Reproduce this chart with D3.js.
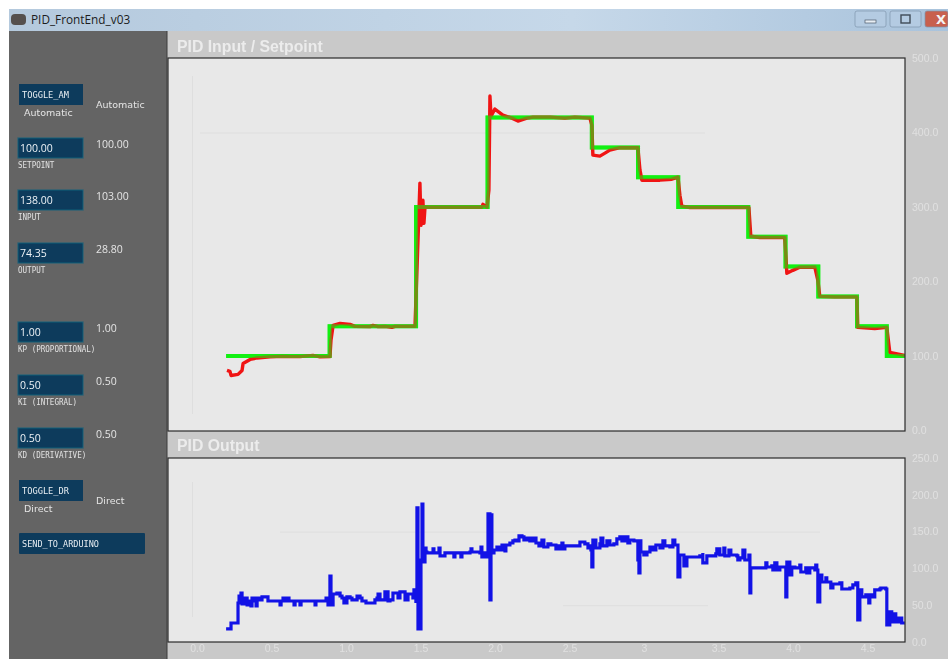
<!DOCTYPE html>
<html>
<head>
<meta charset="utf-8">
<script src="https://cdn.jsdelivr.net/npm/d3@7"></script>
<style>
  html, body { margin: 0; padding: 0; background: #fff; overflow: hidden; }
  svg { display: block; }
  text { font-family: "DejaVu Sans", sans-serif; }
  .tick line, .domain { display: none; }
  .tick text { fill: #e0e0e0; font-size: 10.5px; font-family: "Liberation Sans", sans-serif; }
  .grid .tick line { display: block; stroke: #dedede; stroke-width: 1; }
  .grid .tick text { display: none; }
</style>
</head>
<body>
<div id="chart"></div>
<script>
// tick labels
const inputTicks = [0, 100, 200, 300, 400, 500];
const outputTicks = [0, 50, 100, 150, 200, 250];
const timeTicks = [0, 0.5, 1, 1.5, 2, 2.5, 3, 3.5, 4, 4.5];
const timeLabels = ["0.0", "0.5", "1.0", "1.5", "2.0", "2.5", "3", "3.5", "4.0", "4.5"];

// setpoint steps, minutes / value
const setpointTime = [0.195, 0.89, 1.47, 1.95, 2.65, 2.96, 3.23, 3.70, 3.95, 4.17, 4.43, 4.63, 4.752];
const setpointValue = [100, 140, 300, 420, 380, 340, 300, 260, 220, 180, 140, 100, 100];

// input
const inputTime = [.201, .221, .228, .275, .302, .309, .356, .403, .490, .577, .624, .691, .778, .825, .892, .899, .913, .960,
  1.027, 1.060, 1.161, 1.181, 1.215, 1.261, 1.308, 1.329, 1.463, 1.483, 1.496, 1.503, 1.516, 1.523, 1.530, 1.631, 1.912, 1.919,
  1.946, 1.959, 1.966, 1.973, 1.999, 2.053, 2.114, 2.154, 2.214, 2.255, 2.369, 2.469, 2.536, 2.637, 2.650, 2.657, 2.704, 2.738,
  2.771, 2.838, 2.959, 2.973, 2.986, 3.107, 3.187, 3.228, 3.241, 3.254, 3.308, 3.442, 3.704, 3.717, 3.778, 3.945, 3.959, 3.999,
  4.046, 4.147, 4.167, 4.180, 4.281, 4.429, 4.435, 4.549, 4.630, 4.650, 4.751];
const inputValue = [80.6, 79.3, 73.9, 75.3, 80.6, 90, 95.4, 97.4, 98.8, 99.5, 99.1, 99.1, 100.8, 98.8, 99.1, 121, 141, 143.8,
  142.5, 139.8, 139.4, 141.1, 139.4, 139.8, 138.6, 139.8, 139.8, 255.4, 332, 275.5, 309.1, 278.2, 299.7, 299.7, 299.7, 303.7,
  299.7, 322.6, 448.9, 422, 431.4, 423.4, 419.3, 415.3, 419.3, 420.7, 420.7, 419.3, 420.7, 419.3, 409.9, 369.6, 368.3, 372.3,
  376.3, 379.6, 379.6, 349.4, 336, 336, 337.3, 340, 315.8, 301.1, 299.4, 299.4, 299.4, 260.7, 259, 259, 211, 215,
  219.1, 219.1, 201.6, 180.1, 179.4, 179.4, 138.4, 136.7, 138.4, 104.8, 100.8];

// output
const outputTime = [.195, .228, .228, .248, .275, .282, .289, .295, .302, .322, .336, .349, .362, .369, .382, .396, .403, .423, .436, .463, .476,
  .550, .557, .564, .577, .590, .604, .617, .651, .651, .658, .691, .691, .698, .792, .792, .798, .859, .866, .872, .879, .892, .892, .899, .899, .906,
  .913, .939, .960, .973, .986, 1.000, 1.006, 1.027, 1.040, 1.060, 1.074, 1.094, 1.107, 1.134, 1.134, 1.174, 1.194, 1.208, 1.215, 1.228,
  1.261, 1.282, 1.295, 1.315, 1.349, 1.362, 1.396, 1.416, 1.449, 1.456, 1.469, 1.469, 1.476, 1.483, 1.483, 1.496, 1.503, 1.510, 1.516, 1.516, 1.523, 1.530, 1.537, 1.543,
  1.577, 1.584, 1.590, 1.617, 1.624, 1.631, 1.657, 1.664, 1.718, 1.724, 1.731, 1.765, 1.771, 1.778, 1.832, 1.839, 1.845, 1.899, 1.906, 1.912, 1.926, 1.939,
  1.953, 1.966, 1.966, 1.973, 1.973, 1.979, 1.993, 2.013, 2.026, 2.047, 2.067, 2.073, 2.100, 2.120, 2.134, 2.147, 2.161, 2.181, 2.194, 2.214, 2.234, 2.255,
  2.275, 2.295, 2.315, 2.328, 2.355, 2.375, 2.409, 2.422, 2.436, 2.449, 2.456, 2.469, 2.550, 2.570, 2.603, 2.624, 2.637, 2.644, 2.650, 2.657, 2.657,
  2.677, 2.704, 2.711, 2.724, 2.751, 2.771, 2.798, 2.818, 2.838, 2.852, 2.872, 2.892, 2.905, 2.932, 2.946, 2.959, 2.966, 2.973, 2.979, 2.999, 3.020, 3.040,
  3.060, 3.080, 3.107, 3.127, 3.140, 3.174, 3.194, 3.207, 3.221, 3.228, 3.234, 3.241, 3.261, 3.268, 3.288, 3.375, 3.395, 3.395, 3.422, 3.482, 3.489, 3.509,
  3.536, 3.543, 3.570, 3.583, 3.623, 3.630, 3.644, 3.664, 3.677, 3.704, 3.711, 3.717, 3.717, 3.778, 3.818, 3.825, 3.858, 3.865, 3.878, 3.892, 3.912, 3.945,
  3.952, 3.959, 3.959, 3.979, 3.992, 4.013, 4.046, 4.053, 4.086, 4.093, 4.113, 4.147, 4.153, 4.160, 4.167, 4.174, 4.180, 4.194, 4.221, 4.227, 4.254, 4.268,
  4.315, 4.328, 4.382, 4.402, 4.422, 4.435, 4.435, 4.442, 4.449, 4.462, 4.489, 4.509, 4.516, 4.536, 4.549, 4.583, 4.590, 4.623, 4.630, 4.637, 4.650, 4.663,
  4.670, 4.690, 4.710, 4.730, 4.751];
const outputValue = [17.7, 17.7, 25.8, 25.8, 53, 62.5, 53, 66.6, 51.6, 59.8, 50.3, 55.7, 48.9, 59.8, 55.7, 48.9, 59.8, 57.1, 61.2, 61.2, 55.7,
  55.7, 50.3, 55.7, 59.8, 55.7, 59.8, 55.7, 55.7, 50.3, 55.7, 55.7, 50.3, 55.7, 55.7, 50.3, 55.7, 55.7, 59.8, 55.7, 50.3, 50.3, 89.7, 89.7, 50.3, 50.3,
  65.2, 66.6, 62.5, 59.8, 53, 53, 61.2, 59.8, 57.1, 57.1, 62.5, 59.8, 55.7, 55.7, 53, 53, 57.1, 59.8, 65.2, 57.1,
  68, 55.7, 57.1, 66.6, 59.8, 68, 57.1, 65.2, 59.8, 70.7, 53, 61.2, 182.1, 182.1, 17.7, 17.7, 111.4, 187.5, 187.5, 111.4, 108.7, 127.7, 122.3, 121,
  121, 126.4, 121, 121, 127.7, 116.9, 116.9, 121, 121, 115.5, 121, 121, 115.5, 121, 122.3, 126.4, 122.3, 121, 129.1, 115.5, 121, 115.5,
  174, 174, 57.1, 57.1, 172.6, 121, 125, 129.1, 125, 131.8, 123.7, 131.8, 134.5, 137.3, 138.6, 137.3, 144.1, 142.7, 138.6, 141.3, 137.3, 141.3,
  134.5, 130.5, 138.6, 129.1, 133.2, 131.8, 126.4, 130.5, 126.4, 134.5, 126.4, 130.5, 130.5, 135.9, 133.2, 127.7, 130.5, 125, 101.9, 101.9, 138.6,
  127.7, 133.2, 141.3, 130.5, 137.3, 131.8, 133.2, 140, 142.7, 137.3, 142.7, 134.5, 138.6, 137.3, 137.3, 111.4, 93.8, 137.3, 122.3, 118.2, 122.3, 129.1,
  125, 131.8, 127.7, 137.3, 130.5, 129.1, 138.6, 131.8, 131.8, 88.3, 88.3, 118.2, 118.2, 103.3, 115.5, 116.9, 121, 107.4, 116.9, 119.6, 126.4, 118.2,
  127.7, 116.9, 125, 118.2, 116.9, 111.4, 114.2, 125, 111.4, 118.2, 66.6, 66.6, 100.6, 100.6, 107.4, 101.9, 103.3, 97.8, 107.4, 97.8, 101.9, 101.9,
  61.2, 61.2, 108.7, 91, 101.9, 100.6, 104.6, 95.1, 100.6, 93.8, 100.6, 97.8, 104.6, 97.8, 54.4, 54.4, 91, 81.5, 87, 81.5, 73.4, 78.8,
  80.2, 72, 73.4, 77.5, 80.2, 73.4, 29.9, 29.9, 70.7, 61.2, 63.9, 53, 63.9, 61.2, 70.7, 72, 73.4, 72, 23.1, 23.1, 40.8, 27.2,
  38.1, 27.2, 32.6, 25.8, 25.8];

// control panel
const valueBoxes = [
  { box: "100.00", caption: "SETPOINT", live: "100.00" },
  { box: "138.00", caption: "INPUT", live: "103.00" },
  { box: "74.35", caption: "OUTPUT", live: "28.80" },
  { box: "1.00", caption: "KP (PROPORTIONAL)", live: "1.00" },
  { box: "0.50", caption: "KI (INTEGRAL)", live: "0.50" },
  { box: "0.50", caption: "KD (DERIVATIVE)", live: "0.50" }
];
const boxTops = [138, 190, 243, 322, 375, 428];
const toggles = [
  { box: "TOGGLE_AM", sub: "Automatic", live: "Automatic", y: 84 },
  { box: "TOGGLE_DR", sub: "Direct", live: "Direct", y: 480 }
];

const width = 948, height = 659;
const plotLeft = 168, plotRight = 905;

const svg = d3.select("#chart").append("svg")
  .attr("width", width)
  .attr("height", height);

const defs = svg.append("defs");
const titleGrad = defs.append("linearGradient").attr("id", "titlebar");
titleGrad.append("stop").attr("offset", 0).attr("stop-color", "#b4c9dd");
titleGrad.append("stop").attr("offset", 0.6).attr("stop-color", "#c6d8e9");
titleGrad.append("stop").attr("offset", 1).attr("stop-color", "#a9c3dc");
defs.append("filter").attr("id", "soft").append("feGaussianBlur").attr("stdDeviation", 0.45);
defs.append("filter").attr("id", "softer").append("feGaussianBlur").attr("stdDeviation", 0.7);
defs.append("clipPath").attr("id", "topclip").append("rect")
  .attr("x", plotLeft).attr("y", 58).attr("width", plotRight - plotLeft).attr("height", 373);
defs.append("clipPath").attr("id", "botclip").append("rect")
  .attr("x", plotLeft).attr("y", 458).attr("width", plotRight - plotLeft).attr("height", 184);

// window frame
svg.append("rect").attr("x", 9).attr("y", 9).attr("width", width - 9).attr("height", height - 9).attr("fill", "#c9c9c9");
svg.append("rect").attr("x", 9).attr("y", 9).attr("width", width - 9).attr("height", 22).attr("fill", "url(#titlebar)");
svg.append("rect").attr("x", 11).attr("y", 14).attr("width", 15).attr("height", 11).attr("rx", 4).attr("fill", "#55504e");
svg.append("text").attr("x", 31).attr("y", 24).attr("font-size", 11.8).attr("fill", "#1c1c1c")
  .style("font-family", "'Open Sans', sans-serif").text("PID_FrontEnd_v03");

const winButtons = [[855, 31, "#b4cbe2"], [890, 31, "#b4cbe2"], [925, 23, "#c8604e"]];
svg.selectAll(".winbtn").data(winButtons).enter().append("rect")
  .attr("class", "winbtn")
  .attr("x", d => d[0]).attr("y", 11).attr("width", d => d[1]).attr("height", 16).attr("rx", 2)
  .attr("fill", d => d[2]).attr("stroke", "#7f95ad").attr("stroke-width", 0.7);
svg.append("rect").attr("x", 865).attr("y", 20).attr("width", 11).attr("height", 3).attr("fill", "#e8eef4").attr("stroke", "#4c5a6a").attr("stroke-width", 0.7);
svg.append("rect").attr("x", 901).attr("y", 15).attr("width", 9).attr("height", 8).attr("fill", "none").attr("stroke", "#3f4a57").attr("stroke-width", 1.4);
svg.append("text").attr("x", 936).attr("y", 24).attr("font-size", 13).attr("font-weight", "bold").attr("fill", "#f4f4f4").text("X");

// left panel
svg.append("rect").attr("x", 9).attr("y", 31).attr("width", 158).attr("height", height - 31).attr("fill", "#646464");
svg.append("line").attr("x1", 167).attr("x2", 167).attr("y1", 31).attr("y2", height).attr("stroke", "#3c3c3c");

const panel = svg.append("g").attr("filter", "url(#soft)");
const boxFill = "#0c3a5c", boxEdge = "#14607a";

valueBoxes.forEach((d, i) => {
  const y = boxTops[i];
  panel.append("rect").attr("x", 18).attr("y", y).attr("width", 65).attr("height", 20)
    .attr("fill", boxFill).attr("stroke", boxEdge);
  panel.append("text").attr("x", 20).attr("y", y + 14).attr("font-size", 10.5).attr("fill", "#eef3f6")
    .style("font-family", "'Open Sans', sans-serif").text(d.box);
  panel.append("text").attr("x", 18).attr("y", y + 29.5).attr("font-size", 9).attr("fill", "#e2e2e2")
    .style("font-family", "'DejaVu Sans Mono', monospace")
    .attr("textLength", d.caption.length * 4.55).attr("lengthAdjust", "spacingAndGlyphs").text(d.caption);
  panel.append("text").attr("x", 96).attr("y", y + 10).attr("font-size", 10.5).attr("fill", "#e4e4e4")
    .style("font-family", "'Open Sans', sans-serif").text(d.live);
});

toggles.forEach(d => {
  panel.append("rect").attr("x", 19).attr("y", d.y).attr("width", 64).attr("height", 21).attr("fill", boxFill);
  panel.append("text").attr("x", 22).attr("y", d.y + 14).attr("font-size", 9).attr("fill", "#e8eef2")
    .style("font-family", "'DejaVu Sans Mono', monospace")
    .attr("textLength", 47).attr("lengthAdjust", "spacingAndGlyphs").text(d.box);
  panel.append("text").attr("x", 24).attr("y", d.y + 32).attr("font-size", 9.5).attr("fill", "#e4e4e4")
    .style("font-family", "'DejaVu Sans', sans-serif").text(d.sub);
  panel.append("text").attr("x", 96).attr("y", d.y + 24).attr("font-size", 9.5).attr("fill", "#e4e4e4")
    .style("font-family", "'DejaVu Sans', sans-serif").text(d.live);
});

panel.append("rect").attr("x", 19).attr("y", 533).attr("width", 126).attr("height", 21).attr("rx", 1).attr("fill", boxFill);
panel.append("text").attr("x", 22).attr("y", 547).attr("font-size", 9).attr("fill", "#e8eef2")
  .style("font-family", "'DejaVu Sans Mono', monospace")
  .attr("textLength", 77).attr("lengthAdjust", "spacingAndGlyphs").text("SEND_TO_ARDUINO");

// scales
const x = d3.scaleLinear().domain([-0.195, 4.752]).range([plotLeft, plotRight]);
const yInput = d3.scaleLinear().domain([0, 500]).range([430.5, 58]);
const yOutput = d3.scaleLinear().domain([0, 250]).range([642, 458]);

function plotBox(y0, y1, title, titleY) {
  svg.append("rect").attr("x", plotLeft).attr("y", y0).attr("width", plotRight - plotLeft).attr("height", y1 - y0)
    .attr("fill", "#e8e8e8");
  svg.append("text").attr("x", 177).attr("y", titleY)
    .attr("font-size", 15.8).attr("font-weight", "bold").attr("fill", "#ececec").attr("filter", "url(#softer)")
    .style("font-family", "'Liberation Sans', sans-serif").text(title);
}

plotBox(58, 431, "PID Input / Setpoint", 52);
plotBox(458, 642, "PID Output", 451);

// faint grid that survives in the screenshot
svg.append("g").attr("class", "grid").attr("transform", "translate(200,0)")
  .call(d3.axisRight(yInput).tickValues([400]).tickSize(505).tickFormat(""));
svg.append("g").attr("class", "grid").attr("transform", "translate(280,0)")
  .call(d3.axisRight(yOutput).tickValues([150]).tickSize(540).tickFormat(""));
svg.append("g").attr("class", "grid").attr("transform", "translate(563,0)")
  .call(d3.axisRight(yOutput).tickValues([50]).tickSize(145).tickFormat(""));
svg.append("g").attr("class", "grid").attr("transform", "translate(0,414)")
  .call(d3.axisTop(x).tickValues([-0.034]).tickSize(338).tickFormat(""));
svg.append("g").attr("class", "grid").attr("transform", "translate(0,617)")
  .call(d3.axisTop(x).tickValues([-0.034]).tickSize(135).tickFormat(""));

// lines
const setpointLine = d3.line()
  .x((d, i) => x(setpointTime[i]))
  .y(d => yInput(d))
  .curve(d3.curveStepAfter);
const inputLine = d3.line()
  .x((d, i) => x(inputTime[i]))
  .y(d => yInput(d));
const outputLine = d3.line()
  .x((d, i) => x(outputTime[i]))
  .y(d => yOutput(d))
  .curve(d3.curveStepAfter);

const topPlot = svg.append("g").attr("clip-path", "url(#topclip)");
topPlot.append("path").attr("d", setpointLine(setpointValue))
  .attr("fill", "none").attr("stroke", "#12f012").attr("stroke-width", 4);
topPlot.append("path").attr("d", inputLine(inputValue))
  .attr("fill", "none").attr("stroke", "#f01414").attr("stroke-width", 3.4).attr("stroke-linejoin", "round");
// green again at half strength, so the overlap goes olive as in the screenshot
topPlot.append("path").attr("d", setpointLine(setpointValue))
  .attr("fill", "none").attr("stroke", "#12f012").attr("stroke-width", 4).attr("stroke-opacity", 0.55);

svg.append("g").attr("clip-path", "url(#botclip)")
  .append("path").attr("d", outputLine(outputValue))
  .attr("fill", "none").attr("stroke", "#1212e6").attr("stroke-width", 3.2).attr("stroke-linejoin", "miter");

// borders
[[58, 431], [458, 642]].forEach(d => {
  svg.append("rect").attr("x", plotLeft).attr("y", d[0]).attr("width", plotRight - plotLeft).attr("height", d[1] - d[0])
    .attr("fill", "none").attr("stroke", "#2a2a2a").attr("stroke-width", 1.2);
});

// axes
const axisLabels = svg.append("g").attr("filter", "url(#softer)");
axisLabels.append("g").attr("transform", `translate(${plotRight},0)`)
  .call(d3.axisRight(yInput).tickValues(inputTicks).tickFormat(d3.format(".1f")).tickSize(0).tickPadding(7));
axisLabels.append("g").attr("transform", `translate(${plotRight},0)`)
  .call(d3.axisRight(yOutput).tickValues(outputTicks).tickFormat(d3.format(".1f")).tickSize(0).tickPadding(7));
axisLabels.append("g").attr("transform", "translate(0,642)")
  .call(d3.axisBottom(x).tickValues(timeTicks).tickFormat((d, i) => timeLabels[i]).tickSize(0).tickPadding(3));
</script>
</body>
</html>
